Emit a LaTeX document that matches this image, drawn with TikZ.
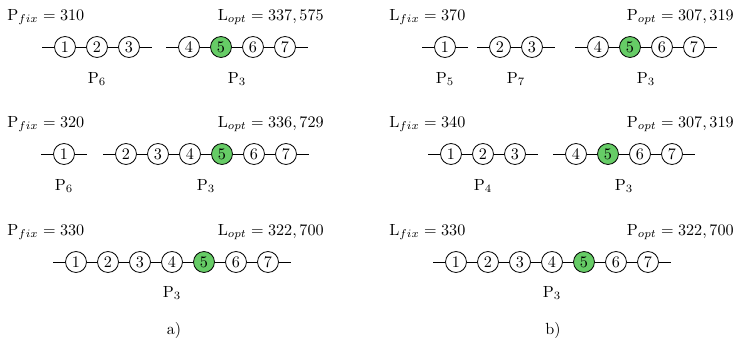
\documentclass[tikz,border=0pt]{standalone}
\definecolor{slackgreen}{RGB}{102,204,102}
\begin{document}
\begin{tikzpicture}[
        x=0.62pt,
        y=-0.62pt,
        bus/.style={
            circle,
            draw,
            line width=0.5pt,
            minimum size=13pt,
            inner sep=0pt
        },
        slack/.style={
            bus,
            fill=slackgreen
        },
        line/.style={
            line width=0.5pt
        },
        head/.style={
            inner sep=0pt
        },
        area/.style={
            inner sep=0pt,
            anchor=base
        }
    ]

        \useasboundingbox (0,0) rectangle (742,340);

        % a) row 1
        \node[head, anchor=base west] (a1fix) at (7,20.5) {$\mathrm{P}_{fix} = 310$};
        \node[head, anchor=base east] (a1opt) at (324,20.5) {$\mathrm{L}_{opt} = 337,575$};
        \coordinate (a1s1) at (42,47);
        \node[bus] (a1n1) at (65,47) {1};
        \node[bus] (a1n2) at (97,47) {2};
        \node[bus] (a1n3) at (129,47) {3};
        \coordinate (a1e1) at (152,47);
        \coordinate (a1s2) at (166,47);
        \node[bus] (a1n4) at (189,47) {4};
        \node[slack] (a1n5) at (221,47) {5};
        \node[bus] (a1n6) at (253,47) {6};
        \node[bus] (a1n7) at (285,47) {7};
        \coordinate (a1e2) at (308,47);
        \node[area] (a1p1) at (97,83.5) {P$_6$};
        \node[area] (a1p2) at (237,83.5) {P$_3$};
        \draw[line] (a1s1) -- (a1n1) -- (a1n2) -- (a1n3) -- (a1e1);
        \draw[line] (a1s2) -- (a1n4) -- (a1n5) -- (a1n6) -- (a1n7) -- (a1e2);

        % a) row 2
        \node[head, anchor=base west] (a2fix) at (7,127.5) {$\mathrm{P}_{fix} = 320$};
        \node[head, anchor=base east] (a2opt) at (324,127.5) {$\mathrm{L}_{opt} = 336,729$};
        \coordinate (a2s1) at (41,154);
        \node[bus] (a2n1) at (64,154) {1};
        \coordinate (a2e1) at (87,154);
        \coordinate (a2s2) at (103,154);
        \node[bus] (a2n2) at (126,154) {2};
        \node[bus] (a2n3) at (158,154) {3};
        \node[bus] (a2n4) at (190,154) {4};
        \node[slack] (a2n5) at (222,154) {5};
        \node[bus] (a2n6) at (254,154) {6};
        \node[bus] (a2n7) at (286,154) {7};
        \coordinate (a2e2) at (309,154);
        \node[area] (a2p1) at (64,190.5) {P$_6$};
        \node[area] (a2p2) at (206,190.5) {P$_3$};
        \draw[line] (a2s1) -- (a2n1) -- (a2e1);
        \draw[line] (a2s2) -- (a2n2) -- (a2n3) -- (a2n4) -- (a2n5) -- (a2n6) -- (a2n7) -- (a2e2);

        % a) row 3
        \node[head, anchor=base west] (a3fix) at (7,235.5) {$\mathrm{P}_{fix} = 330$};
        \node[head, anchor=base east] (a3opt) at (324,235.5) {$\mathrm{L}_{opt} = 322,700$};
        \coordinate (a3s1) at (53,262);
        \node[bus] (a3n1) at (76,262) {1};
        \node[bus] (a3n2) at (108,262) {2};
        \node[bus] (a3n3) at (140,262) {3};
        \node[bus] (a3n4) at (172,262) {4};
        \node[slack] (a3n5) at (204,262) {5};
        \node[bus] (a3n6) at (236,262) {6};
        \node[bus] (a3n7) at (268,262) {7};
        \coordinate (a3e1) at (291,262);
        \node[area] (a3p1) at (172,297.5) {P$_3$};
        \draw[line] (a3s1) -- (a3n1) -- (a3n2) -- (a3n3) -- (a3n4) -- (a3n5) -- (a3n6) -- (a3n7) -- (a3e1);

        \node[area] (acap) at (174,334) {a)};

        % b) row 1
        \node[head, anchor=base west] (b1fix) at (389,20.5) {$\mathrm{L}_{fix} = 370$};
        \node[head, anchor=base east] (b1opt) at (734,20.5) {$\mathrm{P}_{opt} = 307,319$};
        \coordinate (b1s1) at (422,47);
        \node[bus] (b1n1) at (445,47) {1};
        \coordinate (b1e1) at (468,47);
        \coordinate (b1s2) at (477,47);
        \node[bus] (b1n2) at (500,47) {2};
        \node[bus] (b1n3) at (532,47) {3};
        \coordinate (b1e2) at (555,47);
        \coordinate (b1s3) at (575,47);
        \node[bus] (b1n4) at (598,47) {4};
        \node[slack] (b1n5) at (630,47) {5};
        \node[bus] (b1n6) at (662,47) {6};
        \node[bus] (b1n7) at (694,47) {7};
        \coordinate (b1e3) at (717,47);
        \node[area] (b1p1) at (445,83.5) {P$_5$};
        \node[area] (b1p2) at (516,83.5) {P$_7$};
        \node[area] (b1p3) at (646,83.5) {P$_3$};
        \draw[line] (b1s1) -- (b1n1) -- (b1e1);
        \draw[line] (b1s2) -- (b1n2) -- (b1n3) -- (b1e2);
        \draw[line] (b1s3) -- (b1n4) -- (b1n5) -- (b1n6) -- (b1n7) -- (b1e3);

        % b) row 2
        \node[head, anchor=base west] (b2fix) at (389,127.5) {$\mathrm{L}_{fix} = 340$};
        \node[head, anchor=base east] (b2opt) at (734,127.5) {$\mathrm{P}_{opt} = 307,319$};
        \coordinate (b2s1) at (428,154);
        \node[bus] (b2n1) at (451,154) {1};
        \node[bus] (b2n2) at (483,154) {2};
        \node[bus] (b2n3) at (515,154) {3};
        \coordinate (b2e1) at (538,154);
        \coordinate (b2s2) at (553,154);
        \node[bus] (b2n4) at (576,154) {4};
        \node[slack] (b2n5) at (608,154) {5};
        \node[bus] (b2n6) at (640,154) {6};
        \node[bus] (b2n7) at (672,154) {7};
        \coordinate (b2e2) at (695,154);
        \node[area] (b2p1) at (483,190.5) {P$_4$};
        \node[area] (b2p2) at (624,190.5) {P$_3$};
        \draw[line] (b2s1) -- (b2n1) -- (b2n2) -- (b2n3) -- (b2e1);
        \draw[line] (b2s2) -- (b2n4) -- (b2n5) -- (b2n6) -- (b2n7) -- (b2e2);

        % b) row 3
        \node[head, anchor=base west] (b3fix) at (389,235.5) {$\mathrm{L}_{fix} = 330$};
        \node[head, anchor=base east] (b3opt) at (734,235.5) {$\mathrm{P}_{opt} = 322,700$};
        \coordinate (b3s1) at (433,262);
        \node[bus] (b3n1) at (456,262) {1};
        \node[bus] (b3n2) at (488,262) {2};
        \node[bus] (b3n3) at (520,262) {3};
        \node[bus] (b3n4) at (552,262) {4};
        \node[slack] (b3n5) at (584,262) {5};
        \node[bus] (b3n6) at (616,262) {6};
        \node[bus] (b3n7) at (648,262) {7};
        \coordinate (b3e1) at (671,262);
        \node[area] (b3p1) at (552,297.5) {P$_3$};
        \draw[line] (b3s1) -- (b3n1) -- (b3n2) -- (b3n3) -- (b3n4) -- (b3n5) -- (b3n6) -- (b3n7) -- (b3e1);

        \node[area] (bcap) at (553,334) {b)};

    \end{tikzpicture}
\end{document}
